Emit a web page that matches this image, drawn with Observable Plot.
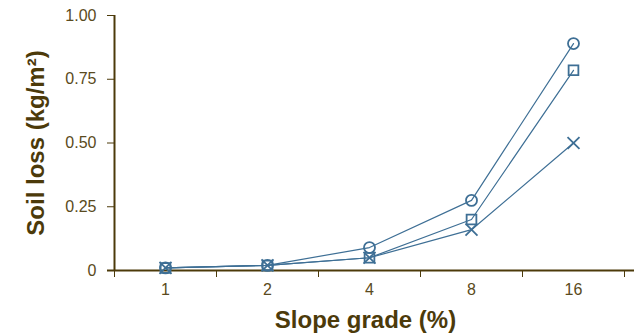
<!DOCTYPE html>
<html><head><meta charset="utf-8">
<script src="https://cdn.jsdelivr.net/npm/d3@7"></script>
<script src="https://cdn.jsdelivr.net/npm/@observablehq/plot@0.6"></script>
<style>body{margin:0;background:#fff}</style>
</head><body><div id="chart"></div>
<script>
const slopes = [1, 2, 4, 8, 16];
const seriesNames = ["circle", "square", "times"];
const circleVals = [0.01, 0.02, 0.09, 0.275, 0.89];
const squareVals = [0.01, 0.02, 0.05, 0.20, 0.785];
const timesVals = [0.01, 0.02, 0.05, 0.16, 0.50];
const yTicks = [0, 0.25, 0.5, 0.75, 1];

const valueSets = [circleVals, squareVals, timesVals];
const data = [];
seriesNames.forEach((s, i) => slopes.forEach((x, j) => data.push({series: s, x, y: valueSets[i][j]})));

const axisColor = "#4c3a0a";
const lineColor = "#3e6f95";
const lo = Math.SQRT1_2, hi = 16 * Math.SQRT2;
const boundaries = [0, 1, 2, 3, 4, 5].map(k => Math.pow(2, k - 0.5));

const chart = Plot.plot({
  width: 634, height: 336,
  marginLeft: 114, marginRight: 10, marginTop: 15, marginBottom: 66,
  style: {fontFamily: "'Liberation Sans', Arial, sans-serif", color: axisColor, background: "#fff"},
  x: {type: "log", base: 2, domain: [lo, hi]},
  y: {domain: [0, 1]},
  symbol: {domain: seriesNames, range: ["circle", "square", "times"]},
  marks: [
    Plot.axisY({ticks: yTicks, tickSize: 7, tickPadding: 11, stroke: axisColor, fill: "#5a4a20",
      tickFormat: d => d === 0 ? "0" : d.toFixed(2),
      label: "Soil loss (kg/m²)", labelAnchor: "center", labelOffset: 88, labelArrow: "none"}),
    Plot.axisX({ticks: boundaries, tickSize: 7, tickFormat: () => "", stroke: axisColor, label: null}),
    Plot.axisX({ticks: slopes, tickSize: 0, tickPadding: 13, fill: "#5a4a20",
      tickFormat: d => String(d), label: "Slope grade (%)", labelAnchor: "center", labelOffset: 57, labelArrow: "none"}),
    Plot.ruleX([lo], {y1: 0, y2: 1, stroke: axisColor, strokeWidth: 2}),
    Plot.ruleY([0], {stroke: axisColor, strokeWidth: 2, insetLeft: -7, insetRight: -10}),
    Plot.line(data, {x: "x", y: "y", z: "series", stroke: lineColor, strokeWidth: 1.2}),
    Plot.dot(data, {x: "x", y: "y", symbol: "series", r: 5.5, stroke: lineColor, strokeWidth: 1.8, fill: "none"})
  ]
});
d3.select(chart).selectAll("text").style("font-size", "16px");
d3.select(chart).selectAll("g[aria-label='y-axis label'] text, g[aria-label='x-axis label'] text")
  .style("font-size", "24px").style("font-weight", "bold").style("fill", axisColor);
d3.select(chart).selectAll("g[aria-label='x-axis label'] text").attr("dx", -4);
document.getElementById("chart").appendChild(chart);
</script></body></html>
